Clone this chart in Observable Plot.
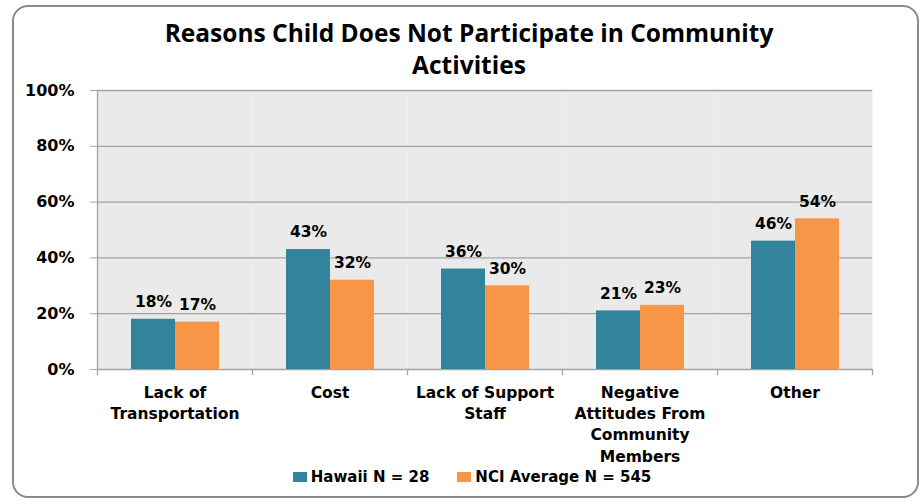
<!DOCTYPE html>
<html>
<head>
<meta charset="utf-8">
<script src="https://cdn.jsdelivr.net/npm/d3@7"></script>
<script src="https://cdn.jsdelivr.net/npm/@observablehq/plot@0.6"></script>
<style>
  body { margin: 0; background: #fff; }
  #wrap { position: relative; width: 922px; height: 501px; overflow: hidden; }
  #border { position: absolute; left: 12px; top: 5px; width: 903px; height: 489px;
    border: 2px solid #8a8a8a; border-radius: 16px; }
  #title { position: absolute; left: 0; width: 938px; top: 17px; text-align: center;
    font-family: "Open Sans", sans-serif; font-weight: 700; font-size: 24.5px; line-height: 32px; color: #000; }
  #chart { position: absolute; left: 0; top: 0; }
  #legend { position: absolute; left: 0; width: 944px; top: 467px; text-align: center;
    font-family: "DejaVu Sans", sans-serif; font-weight: 700; font-size: 15px; line-height: 20px; color: #000; }
  #legend span.item { display: inline-block; margin: 0 14px; }
  #legend span.sw { display: inline-block; width: 14px; height: 10px; margin-right: 4px; vertical-align: 0px; }
</style>
</head>
<body>
<div id="wrap">
  <div id="border"></div>
  <div id="title">Reasons Child Does Not Participate in Community<br>Activities</div>
  <div id="chart"></div>
  <div id="legend"></div>
</div>
<script>
const categories = ["Lack of Transportation", "Cost", "Lack of Support Staff", "Negative Attitudes From Community Members", "Other"];
const categoryLabels = ["Lack of\nTransportation", "Cost", "Lack of Support\nStaff", "Negative\nAttitudes From\nCommunity\nMembers", "Other"];
const seriesNames = ["Hawaii N = 28", "NCI Average N = 545"];
const hawaii = [0.18, 0.43, 0.36, 0.21, 0.46];
const nciAverage = [0.17, 0.32, 0.30, 0.23, 0.54];
const seriesColors = ["#31849B", "#F79646"];
const yTicks = [0, 0.2, 0.4, 0.6, 0.8, 1.0];

const data = [];
categories.forEach((c, i) => {
  data.push({category: c, series: seriesNames[0], value: hawaii[i]});
  data.push({category: c, series: seriesNames[1], value: nciAverage[i]});
});
const labelOf = new Map(categories.map((c, i) => [c, categoryLabels[i]]));

const W = 922, H = 470, mt = 90, mb = H - 369, ml = 95, mr = 922 - 874;
const plotH = H - mt - mb;
const font = "'DejaVu Sans', sans-serif";

const chart = Plot.plot({
  width: W, height: H,
  marginTop: mt, marginBottom: mb, marginLeft: ml, marginRight: mr,
  style: {fontFamily: font, fontWeight: "bold", color: "#000", background: "transparent"},
  fx: {domain: categories, padding: 0, label: null, axis: null},
  x: {domain: seriesNames, paddingInner: 0, paddingOuter: 0.753, axis: null},
  y: {domain: [0, 1], label: null},
  color: {domain: seriesNames, range: seriesColors},
  marks: [
    Plot.frame({fill: "#EAEAEA", stroke: null}),
    Plot.gridY(yTicks, {stroke: "#A3A3A3", strokeOpacity: 1, strokeWidth: 1.3}),
    Plot.axisY(yTicks, {tickFormat: d3.format(".0%"), tickSize: 7, tickPadding: 16, fontSize: 16,
      stroke: "#A3A3A3", facetAnchor: "left"}),
    Plot.frame({anchor: "left", stroke: "#A3A3A3", strokeWidth: 1.3, insetBottom: -5, facetAnchor: "left"}),
    Plot.frame({anchor: "right", stroke: "#A3A3A3", strokeWidth: 1.3, insetTop: plotH, insetBottom: -5}),
    Plot.barY(data, {fx: "category", x: "series", y: "value", fill: "series"}),
    Plot.text(data, {fx: "category", x: "series", y: "value", text: d => d3.format(".0%")(d.value),
      dy: -17, fontSize: 15.5, fontWeight: "bold", fill: "#000"}),
    Plot.axisFx({anchor: "bottom", tickSize: 0, tickPadding: 13, fontSize: 15.5, lineHeight: 1.38,
      tickFormat: d => labelOf.get(d), label: null})
  ]
});
document.getElementById("chart").appendChild(chart);

const legend = document.getElementById("legend");
seriesNames.forEach((s, i) => {
  const item = document.createElement("span");
  item.className = "item";
  const sw = document.createElement("span");
  sw.className = "sw";
  sw.style.background = seriesColors[i];
  item.appendChild(sw);
  item.appendChild(document.createTextNode(s));
  legend.appendChild(item);
});
</script>
</body>
</html>
